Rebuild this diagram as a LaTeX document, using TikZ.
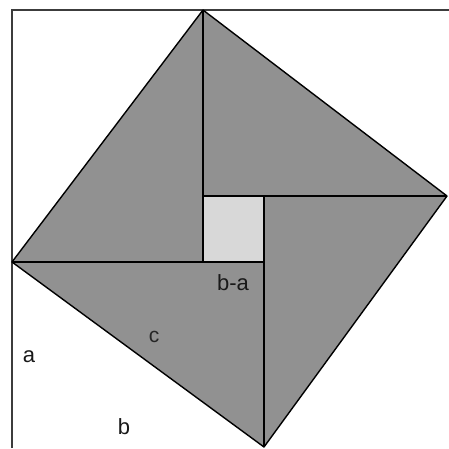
\documentclass[tikz,border=0pt]{standalone}
\usepackage{fontspec}
\setmainfont{Liberation Sans}
\definecolor{trifill}{RGB}{145,145,145}
\definecolor{sqfill}{RGB}{216,216,216}
\definecolor{framecol}{RGB}{60,60,60}
\begin{document}
\begin{tikzpicture}[x=1pt,y=-1pt,
  edge/.style={draw=black,line width=1.4pt,line join=round},
  lbl/.style={inner sep=0pt,font=\fontsize{22}{26}\selectfont,text=black!90},
  lblc/.style={inner sep=0pt,font=\fontsize{21}{24}\selectfont,text=black!85}]
\useasboundingbox[fill=white] (0,0) rectangle (449,448);
% points
\coordinate (L) at (12,262);
\coordinate (T) at (203,10);
\coordinate (R) at (447,196);
\coordinate (B) at (264,447);
\coordinate (P1) at (203,196);
\coordinate (P2) at (264,196);
\coordinate (P3) at (264,262);
\coordinate (P4) at (203,262);
\coordinate (F0) at (12,448);
\coordinate (F1) at (12,10);
\coordinate (F2) at (449,10);
% fills
\fill[trifill] (L) -- (T) -- (R) -- (B) -- cycle;
\fill[sqfill] (P1) rectangle (P3);
% frame
\draw[framecol,line width=1.4pt] (F0) -- (F1) -- (F2);
% lines
\draw[edge] (L) -- (T) -- (R) -- (B) -- cycle;
\draw[edge] (T) -- (P4);
\draw[edge] (L) -- (P3);
\draw[edge] (P1) -- (R);
\draw[edge] (P2) -- (B);
% labels
\node[lbl] (la) at (29,357) {a};
\node[lbl] (lb) at (124,427) {b};
\node[lblc] (lc) at (154,337) {c};
\node[lbl] (lba) at (233,283) {b-a};
\end{tikzpicture}
\end{document}
